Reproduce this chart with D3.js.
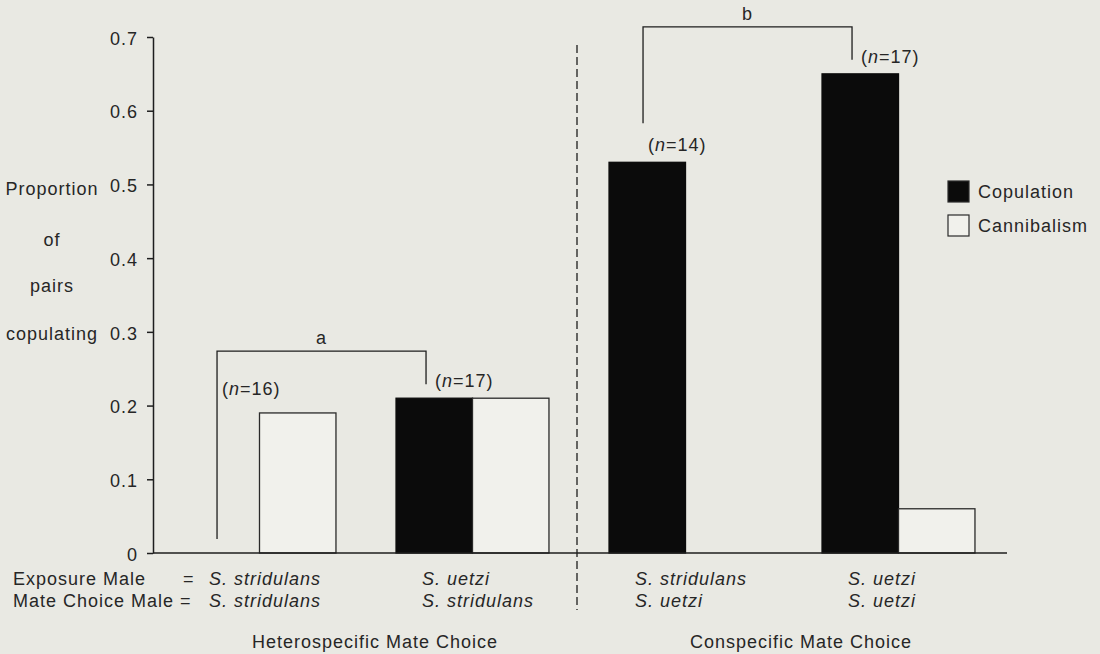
<!DOCTYPE html>
<html>
<head>
<meta charset="utf-8">
<script src="https://cdn.jsdelivr.net/npm/d3@7"></script>
<style>
    body { margin: 0; background: #e9e9e3; }
    svg text { font-family: "Liberation Sans", Arial, sans-serif; font-size: 18px; letter-spacing: 1px; fill: #262626; }
</style>
</head>
<body>
<svg id="chart" width="1100" height="654"></svg>
<script>
'use strict';

// data
var groups = ['stri-stri', 'uetz-stri', 'stri-uetz', 'uetz-uetz'];
var series = ['Copulation', 'Cannibalism'];
var copulation = [0, 0.21, 0.53, 0.65];
var cannibalism = [0.19, 0.21, 0, 0.06];
var sampleSizes = [16, 17, 14, 17];
var exposureMale = ['S. stridulans', 'S. uetzi', 'S. stridulans', 'S. uetzi'];
var mateChoiceMale = ['S. stridulans', 'S. stridulans', 'S. uetzi', 'S. uetzi'];
var panels = ['Heterospecific Mate Choice', 'Conspecific Mate Choice'];
var yTicks = [0, 0.1, 0.2, 0.3, 0.4, 0.5, 0.6, 0.7];
var yTickLabels = ['0', '0.1', '0.2', '0.3', '0.4', '0.5', '0.6', '0.7'];
var yTitle = ['Proportion', 'of', 'pairs', 'copulating'];
var brackets = [{from: 0, to: 1, label: 'a'}, {from: 2, to: 3, label: 'b'}];

var svg = d3.select('#chart');
var ink = '#1e1e1e';

var x = d3.scaleBand().domain(groups).range([153, 1005]).paddingInner(0.282).paddingOuter(0.141);
var xSub = d3.scaleBand().domain(series).range([0, x.bandwidth()]);
var y = d3.scaleLinear().domain([0, 0.7]).range([553, 37]);

var values = {Copulation: copulation, Cannibalism: cannibalism};
var bars = [];
groups.forEach(function(g, i) {
    series.forEach(function(s) {
        if (values[s][i] > 0) bars.push({group: g, series: s, value: values[s][i]});
    });
});

// bars
svg.append('g').selectAll('rect')
    .data(bars)
    .enter()
    .append('rect')
    .attr('x', function(d) { return x(d.group) + xSub(d.series); })
    .attr('y', function(d) { return y(d.value); })
    .attr('width', xSub.bandwidth())
    .attr('height', function(d) { return y(0) - y(d.value); })
    .style('fill', function(d) { return d.series === 'Copulation' ? '#0b0b0b' : '#f1f1ec'; })
    .style('stroke', function(d) { return d.series === 'Copulation' ? '#0b0b0b' : '#2a2a2a'; })
    .style('stroke-width', 1.3);

// y axis
var yAxis = svg.append('g')
    .attr('transform', 'translate(153,0)')
    .call(d3.axisLeft(y).tickValues(yTicks).tickSize(6).tickSizeOuter(0).tickPadding(9)
        .tickFormat(function(d, i) { return yTickLabels[i]; }));
yAxis.selectAll('path, line').style('stroke', ink).style('stroke-width', 1.5);
yAxis.selectAll('text').attr('dy', '0.4em');

// x axis baseline
svg.append('line')
    .attr('x1', 153).attr('x2', 1007)
    .attr('y1', y(0)).attr('y2', y(0))
    .style('stroke', ink).style('stroke-width', 1.5);

// y title
svg.append('g').selectAll('text')
    .data(yTitle)
    .enter()
    .append('text')
    .attr('x', 52)
    .attr('y', function(d, i) { return [195, 246, 292, 340][i]; })
    .attr('text-anchor', 'middle')
    .text(function(d) { return d; });

// dashed divider between panels
var divX = (x(groups[1]) + x.bandwidth() + x(groups[2])) / 2 - 2;
svg.append('line')
    .attr('x1', divX).attr('x2', divX)
    .attr('y1', 45).attr('y2', 610)
    .style('stroke', ink).style('stroke-width', 1.3)
    .style('stroke-dasharray', '8,4');

// sample size labels
function groupTop(i) { return y(Math.max(copulation[i], cannibalism[i])); }
function nLabelX(i) { return x(groups[i]) + 39; }
function nLabelY(i) { return groupTop(i) - (i === 0 ? 18 : 11); }
var nLab = svg.append('g').selectAll('text')
    .data(sampleSizes)
    .enter()
    .append('text')
    .attr('x', function(d, i) { return nLabelX(i); })
    .attr('y', function(d, i) { return nLabelY(i); });
nLab.append('tspan').text('(');
nLab.append('tspan').style('font-style', 'italic').text('n');
nLab.append('tspan').text(function(d) { return '=' + d + ')'; });

// significance brackets: legs point at the copulation bars,
// the left leg stops above the n label when that label sits on the copulation bar
brackets.forEach(function(b) {
    var level = Math.min(groupTop(b.from), groupTop(b.to)) - 47;
    var legs = [{i: b.from, dx: 34, left: true}, {i: b.to, dx: 30, left: false}].map(function(l) {
        var end = y(copulation[l.i]) - 14;
        if (l.left && copulation[l.i] > cannibalism[l.i]) end = Math.min(end, nLabelY(l.i) - 28);
        return {x: x(groups[l.i]) + l.dx, end: end};
    });
    svg.append('path')
        .attr('d', 'M' + legs[0].x + ',' + legs[0].end + 'V' + level + 'H' + legs[1].x + 'V' + legs[1].end)
        .style('fill', 'none').style('stroke', ink).style('stroke-width', 1.3);
    svg.append('text')
        .attr('x', (legs[0].x + legs[1].x) / 2)
        .attr('y', level - 7)
        .attr('text-anchor', 'middle')
        .text(b.label);
});

// category rows under the axis
svg.append('text').attr('x', 13).attr('y', 585).text('Exposure Male');
svg.append('text').attr('x', 183).attr('y', 585).text('=');
svg.append('text').attr('x', 13).attr('y', 607).text('Mate Choice Male =');
var rows = svg.append('g').style('font-style', 'italic');
rows.selectAll('text.exp')
    .data(exposureMale)
    .enter()
    .append('text')
    .attr('class', 'exp')
    .attr('x', function(d, i) { return x(groups[i]) + 26; })
    .attr('y', 585)
    .text(function(d) { return d; });
rows.selectAll('text.mate')
    .data(mateChoiceMale)
    .enter()
    .append('text')
    .attr('class', 'mate')
    .attr('x', function(d, i) { return x(groups[i]) + 26; })
    .attr('y', 607)
    .text(function(d) { return d; });

// panel titles
svg.append('g').selectAll('text')
    .data(panels)
    .enter()
    .append('text')
    .attr('x', function(d, i) { return (x(groups[i * 2]) + x(groups[i * 2 + 1]) + x.bandwidth()) / 2 + 9; })
    .attr('y', 648)
    .attr('text-anchor', 'middle')
    .text(function(d) { return d; });

// legend
var leg = svg.append('g').selectAll('g')
    .data(series)
    .enter()
    .append('g')
    .attr('transform', function(d, i) { return 'translate(948,' + (181 + i * 34) + ')'; });
leg.append('rect')
    .attr('width', 21).attr('height', 21)
    .style('fill', function(d) { return d === 'Copulation' ? '#0b0b0b' : '#f1f1ec'; })
    .style('stroke', '#2a2a2a').style('stroke-width', 1.2);
leg.append('text')
    .attr('x', 30).attr('y', 17)
    .text(function(d) { return d; });
</script>
</body>
</html>
